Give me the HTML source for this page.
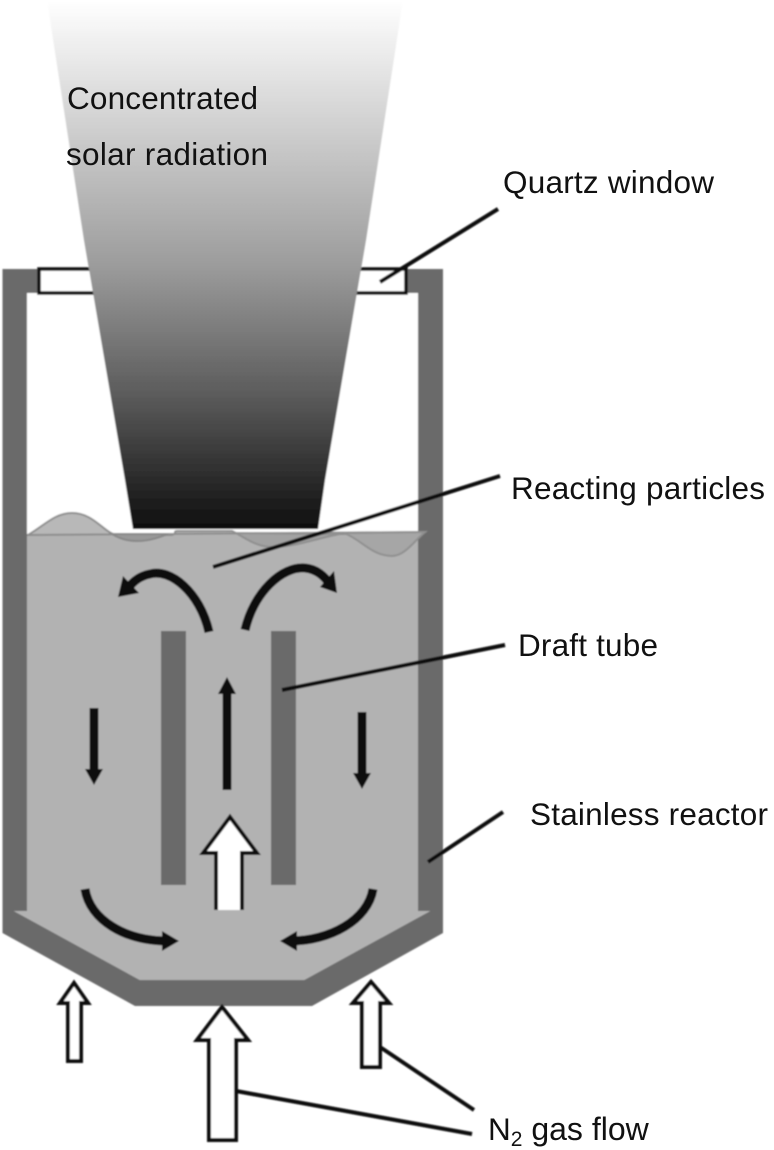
<!DOCTYPE html>
<html><head><meta charset="utf-8"><style>
html,body{margin:0;padding:0;background:#fff;width:774px;height:1150px;overflow:hidden}
svg{display:block}
text{font-family:"Liberation Sans",sans-serif;font-size:31.500px;fill:#111}
</style></head><body>
<svg width="774" height="1150" viewBox="0 0 774 1150" xmlns="http://www.w3.org/2000/svg">
<defs>
<linearGradient id="b" gradientUnits="userSpaceOnUse" x1="0" y1="0" x2="0" y2="529">
<stop offset="0" stop-color="#fff"/><stop offset=".5" stop-color="#9c9c9c"/><stop offset=".75" stop-color="#5a5a5a"/><stop offset="1" stop-color="#0e0e0e"/>
</linearGradient>
<filter id="s" x="-2%" y="-2%" width="104%" height="104%"><feGaussianBlur stdDeviation="0.8"/></filter>
</defs>
<g filter="url(#s)">
<path d="M2.500,269H443V933L312,1006H135L2.500,933Z" fill="#6b6b6b"/>
<path d="M27,293H418V911H430L304,980H140L14,911H27Z" fill="#fff"/>
<path d="M27,535L418,532V911H430L304,980H140L14,911H27Z" fill="#b2b2b2"/>
<path d="M28,535C45,525 55,513 72,513C95,513 105,535 118,535H172C178,533 172,531 178,531H232L238,534H342L424,532L27,535Z" fill="#b8b8b8" stroke="#8e8e8e" stroke-width="2"/>
<path d="M112,534C122,540 130,541 138,541C150,541 160,537 168,534Z" fill="#999" stroke="#888" stroke-width="2"/>
<path d="M236,533C248,540 258,547 272,547C295,547 318,538 340,534Z" fill="#a2a2a2" stroke="#909090" stroke-width="2"/>
<path d="M344,533C362,540 372,556 392,556C405,556 415,540 425,532Z" fill="#a6a6a6" stroke="#909090" stroke-width="2"/>
<rect x="39" y="269" width="367" height="24" fill="#fff" stroke="#111" stroke-width="3.500"/>
<path d="M47,0L84,240L125,480L133,529H318L325,480L366,240L403,0Z" fill="url(#b)"/>
<rect x="161" y="631" width="25" height="254" fill="#6b6b6b"/>
<rect x="271" y="631" width="25" height="254" fill="#6b6b6b"/>
<g fill="none" stroke="#0a0a0a" stroke-width="9">
<path d="M209,632C200,592 170,568 150,574C140,576 132,582 127,590"/>
<path d="M245,630C254,592 282,566 305,568C316,569 325,576 330,585"/>
<path d="M85,889C90,920 125,941 168,941"/>
<path d="M373,889C368,920 330,941 290,941"/>
<path d="M94,708V772"/><path d="M227,790V690"/><path d="M362,712V776"/>
</g>
<g fill="#0a0a0a">
<path d="M118,597L123,576L139,593Z"/>
<path d="M337,593L320,587L334,571Z"/>
<path d="M179,941L162,931V951Z"/>
<path d="M280,941L297,931V951Z"/>
<path d="M94,785L85,769H103Z"/>
<path d="M227,677L218,694H236Z"/>
<path d="M362,789L353,773H371Z"/>
</g>
<g fill="#fff" stroke="#111" stroke-width="4">
<path d="M216,910V853H203L230,817L257,853H242V910" />
<path d="M68,1061V1003H60L74,983L88,1003H81V1061Z"/>
<path d="M209,1140V1040H197L222,1007L248,1040H236V1140Z"/>
<path d="M362,1067V1003H353L371,982L389,1003H380V1067Z"/>
</g>
<g fill="none" stroke="#0a0a0a" stroke-width="4">
<path d="M380,282L498,209"/>
<path d="M213,567L500,476"/>
<path d="M282,690L505,645"/>
<path d="M428,862L503,812"/>
<path d="M380,1047L474,1110"/>
<path d="M236,1091L472,1134"/>
</g>
</g>
<text x="67" y="109" textLength="191">Concentrated</text>
<text x="66" y="165" textLength="202">solar radiation</text>
<text x="503" y="193" textLength="211">Quartz window</text>
<text x="511" y="499" textLength="254">Reacting particles</text>
<text x="518" y="656" textLength="140">Draft tube</text>
<text x="530" y="825" textLength="238">Stainless reactor</text>
<text x="488" y="1140" font-size="32">N<tspan font-size="21" dy="6">2</tspan><tspan dy="-6" font-size="32"> gas flow</tspan></text>
</svg>
</body></html>
